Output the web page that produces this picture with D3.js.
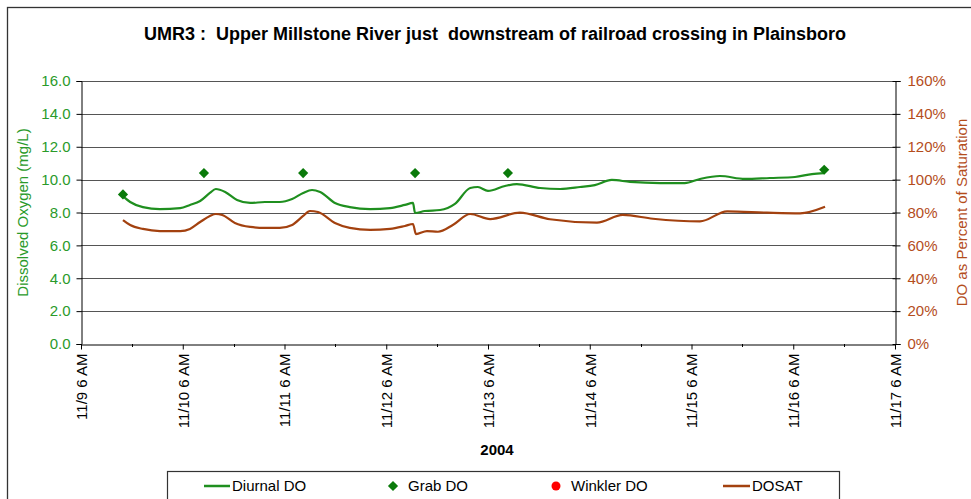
<!DOCTYPE html>
<html><head><meta charset="utf-8">
<script src="https://cdn.jsdelivr.net/npm/d3@7/dist/d3.min.js"></script>
<style>
body{margin:0;background:#fff;}
svg{display:block;font-family:"Liberation Sans",Arial,sans-serif;}
</style></head>
<body><svg id="chart" width="971" height="499"></svg>
<script>
// ---- data (hours after 11/9/2004 6 AM) ----
const diurnalHours = [9.9,11.6,14.6,18.6,23.4,25.7,28.1,30.4,31.8,34.0,36.8,39.9,43.4,46.9,49.8,52.4,54.5,56.4,59.9,63.4,68.2,72.9,76.4,78.3,78.8,81.1,84.7,88.2,91.8,93.6,96.0,100.0,102.8,108.3,113.0,117.7,121.2,125.2,129.5,136.6,142.4,146.0,150.7,156.6,162.5,168.4,172.4,175.3];
const diurnalDO = [9.00,8.64,8.33,8.21,8.27,8.46,8.70,9.19,9.43,9.25,8.76,8.58,8.64,8.64,8.82,9.19,9.37,9.25,8.58,8.33,8.21,8.27,8.46,8.58,7.97,8.09,8.15,8.52,9.49,9.55,9.31,9.61,9.73,9.49,9.43,9.55,9.67,9.98,9.86,9.79,9.79,10.04,10.22,10.04,10.10,10.16,10.34,10.40];
const dosatHours = [9.9,11.6,14.6,18.6,23.4,25.7,28.1,30.4,31.8,33.3,36.3,39.9,43.4,46.9,49.8,52.4,54.0,55.9,59.9,63.4,68.2,72.9,76.4,78.3,79.0,81.6,84.2,87.7,91.8,96.5,103.5,110.6,121.7,127.8,134.9,146.0,152.4,161.8,169.6,175.5];
const dosat = [75.4,72.4,70.0,68.7,68.7,70.0,74.2,77.9,79.1,78.5,73.6,71.2,70.6,70.6,72.4,77.9,80.9,80.3,73.6,70.6,69.4,70.0,71.8,73.0,66.9,68.7,68.3,72.4,79.1,76.0,79.9,75.9,73.8,78.5,76.2,74.6,80.7,79.9,79.5,83.5];
const grabHours = [9.9,29.0,52.4,78.8,100.7,175.3];
const grabDO = [9.1,10.4,10.4,10.4,10.4,10.6];
const winklerHours = [];
const winklerDO = [];
const leftTicks = [0,2,4,6,8,10,12,14,16];
const rightTicks = [0,20,40,60,80,100,120,140,160];
const xTickLabels = ["11/9 6 AM","11/10 6 AM","11/11 6 AM","11/12 6 AM","11/13 6 AM","11/14 6 AM","11/15 6 AM","11/16 6 AM","11/17 6 AM"];
const title = "UMR3 :  Upper Millstone River just  downstream of railroad crossing in Plainsboro";

const t0 = new Date(2004,10,9,6,0);
const toDate = h => d3.timeMinute.offset(t0, Math.round(h*60));

const GREEN="#1f8f1f", GREEN_T="#2a9a2a", BROWN="#a3410f", BROWN_T="#b44d1c";
const m = {l:81, r:895, t:81, b:344};
const svg = d3.select("#chart");

// outer frame
svg.append("rect").attr("x",7.5).attr("y",7.5).attr("width",1000).attr("height",1000)
  .attr("fill","none").attr("stroke","#333").attr("stroke-width",1.3);

const x = d3.scaleTime().domain([t0, d3.timeDay.offset(t0,8)]).range([m.l,m.r]);
const yL = d3.scaleLinear().domain([0,16]).range([m.b,m.t]);
const yR = d3.scaleLinear().domain([0,160]).range([m.b,m.t]);

// gridlines
svg.append("g").selectAll("line").data(leftTicks.slice(1)).join("line")
  .attr("x1",m.l).attr("x2",m.r).attr("y1",d=>Math.round(yL(d))+0.5).attr("y2",d=>Math.round(yL(d))+0.5)
  .attr("stroke","#555").attr("stroke-width",1);

// left axis
const gL = svg.append("g").attr("transform",`translate(${m.l+0.5},0)`)
  .call(d3.axisLeft(yL).tickValues(leftTicks).tickFormat(d3.format(".1f")).tickSize(5).tickPadding(6));
gL.selectAll("text").attr("fill",GREEN_T).style("font-size","15px");
gL.selectAll("line").attr("stroke","#000");
gL.select(".domain").attr("stroke","#000");

// right axis
const gR = svg.append("g").attr("transform",`translate(${m.r+0.5},0)`)
  .call(d3.axisRight(yR).tickValues(rightTicks).tickFormat(d=>d+"%").tickSize(5).tickPadding(7));
gR.selectAll("text").attr("fill",BROWN_T).style("font-size","15px");
gR.selectAll(".tick line").attr("x1",-3).attr("stroke","#000");
gR.select(".domain").attr("stroke","#000");

// x axis
const majorDates = xTickLabels.map((_,i)=>d3.timeDay.offset(t0,i));
const minorDates = d3.range(8).map(i=>d3.timeHour.offset(t0,i*24+12));
const gX = svg.append("g").attr("transform",`translate(0,${m.b+0.5})`)
  .call(d3.axisBottom(x).tickValues(majorDates).tickFormat((d,i)=>xTickLabels[i]).tickSize(5).tickSizeOuter(0));
gX.select(".domain").attr("stroke","#000");
gX.selectAll(".tick line").attr("stroke","#000");
gX.selectAll("text").style("font-size","15px").attr("fill","#000")
  .attr("transform","rotate(-90)").attr("text-anchor","end").attr("x",-9).attr("y",0).attr("dy","0.35em");
svg.append("g").selectAll("line").data(minorDates).join("line")
  .attr("x1",d=>Math.round(x(d))+0.5).attr("x2",d=>Math.round(x(d))+0.5)
  .attr("y1",m.b).attr("y2",m.b+3).attr("stroke","#000");

// lines
const lineL = d3.line().x(d=>x(toDate(d[0]))).y(d=>yL(d[1])).curve(d3.curveMonotoneX);
const lineR = d3.line().x(d=>x(toDate(d[0]))).y(d=>yR(d[1])).curve(d3.curveMonotoneX);
svg.append("path").datum(dosatHours.map((h,i)=>[h,dosat[i]])).attr("d",lineR)
  .attr("fill","none").attr("stroke",BROWN).attr("stroke-width",2.2).attr("stroke-linejoin","round");
svg.append("path").datum(diurnalHours.map((h,i)=>[h,diurnalDO[i]])).attr("d",lineL)
  .attr("fill","none").attr("stroke",GREEN).attr("stroke-width",2.2).attr("stroke-linejoin","round");

// grab markers
const diamond = d3.symbol().type(d3.symbolSquare).size(52);
svg.append("g").selectAll("path").data(grabHours.map((h,i)=>[h,grabDO[i]])).join("path")
  .attr("d",diamond).attr("fill","#0a7a0a")
  .attr("transform",d=>`translate(${x(toDate(d[0]))},${yL(d[1])}) rotate(45)`);
svg.append("g").selectAll("circle").data(winklerHours.map((h,i)=>[h,winklerDO[i]])).join("circle")
  .attr("cx",d=>x(toDate(d[0]))).attr("cy",d=>yL(d[1])).attr("r",4.5).attr("fill","#f00");

// title
svg.append("text").attr("x",495).attr("y",40).attr("text-anchor","middle")
  .style("font-size","18px").style("font-weight","bold").style("white-space","pre").text(title);

// axis titles
svg.append("text").attr("transform","translate(28,212.5) rotate(-90)").attr("text-anchor","middle")
  .attr("fill",GREEN_T).style("font-size","15px").text("Dissolved Oxygen (mg/L)");
svg.append("text").attr("transform","translate(967,212.5) rotate(-90)").attr("text-anchor","middle")
  .attr("fill",BROWN_T).style("font-size","15px").text("DO as Percent of Saturation");
svg.append("text").attr("x",497).attr("y",455).attr("text-anchor","middle")
  .style("font-size","15px").style("font-weight","bold").text("2004");

// legend
svg.append("rect").attr("x",167.5).attr("y",471.5).attr("width",672).attr("height",60)
  .attr("fill","#fff").attr("stroke","#333").attr("stroke-width",1.2);
const ly = 486;
const lg = svg.append("g");
lg.append("line").attr("x1",204).attr("x2",230).attr("y1",ly).attr("y2",ly).attr("stroke",GREEN).attr("stroke-width",2.5);
lg.append("text").attr("x",232).attr("y",ly).attr("dy","0.35em").style("font-size","15px").text("Diurnal DO");
lg.append("path").attr("d",diamond).attr("fill","#0a7a0a").attr("transform",`translate(393,${ly}) rotate(45)`);
lg.append("text").attr("x",408).attr("y",ly).attr("dy","0.35em").style("font-size","15px").text("Grab DO");
lg.append("circle").attr("cx",556).attr("cy",ly).attr("r",4.5).attr("fill","#f00");
lg.append("text").attr("x",571).attr("y",ly).attr("dy","0.35em").style("font-size","15px").text("Winkler DO");
lg.append("line").attr("x1",723).attr("x2",750).attr("y1",ly).attr("y2",ly).attr("stroke",BROWN).attr("stroke-width",2.5);
lg.append("text").attr("x",752).attr("y",ly).attr("dy","0.35em").style("font-size","15px").text("DOSAT");
</script></body></html>
